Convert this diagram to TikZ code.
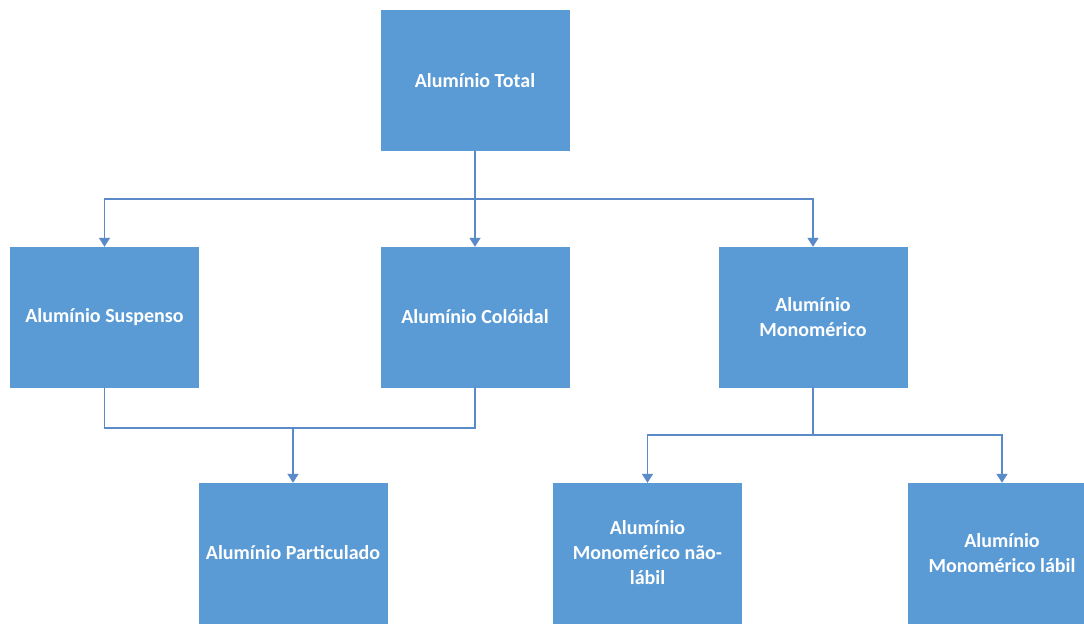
\documentclass[tikz,border=0pt]{standalone}
\usepackage{fontspec}
\setmainfont{Carlito}
\usetikzlibrary{arrows.meta}
\definecolor{boxblue}{HTML}{5B9BD5}
\definecolor{lineblue}{HTML}{5A8BC8}
\tikzset{
  box/.style={draw=boxblue, fill=boxblue, minimum width=188pt, minimum height=140pt,
    inner sep=4pt, align=center, text=white, font=\fontsize{20}{25}\selectfont\bfseries},
  conn/.style={draw=lineblue, line width=1.5pt},
  arr/.style={conn, -{Triangle[width=11pt,length=9pt]}}
}
\begin{document}
\begin{tikzpicture}[x=1pt,y=-1pt]
\useasboundingbox (0,0) rectangle (1084,624);
\clip (0,0) rectangle (1084,624);
\node[box] (tot) at (475,80.5) {Alumínio Total};
\node[box] (sus) at (104.5,317) {Alumínio Suspenso};
\node[box] (col) at (475,317) {Alumínio Colóidal};
\node[box] (mon) at (813,317) {Alumínio\\Monomérico};
\node[box] (par) at (293,553) {Alumínio Particulado};
\node[box] (nl) at (647.5,553) {Alumínio\\Monomérico não-\\lábil};
\node[box] (lab) at (1002,553) {Alumínio\\Monomérico lábil};
\coordinate (j1) at (475,199);
\coordinate (j2) at (293,428);
\coordinate (j3) at (813,435);
\draw[conn] (tot.south) -- (j1);
\draw[arr] (j1) -| (sus.north);
\draw[arr] (j1) -| (mon.north);
\draw[arr] (j1) -- (col.north);
\draw[conn] (sus.south) |- (j2);
\draw[conn] (col.south) |- (j2);
\draw[arr] (j2) -- (par.north);
\draw[conn] (mon.south) -- (j3);
\draw[arr] (j3) -| (nl.north);
\draw[arr] (j3) -| (lab.north);
\end{tikzpicture}
\end{document}
